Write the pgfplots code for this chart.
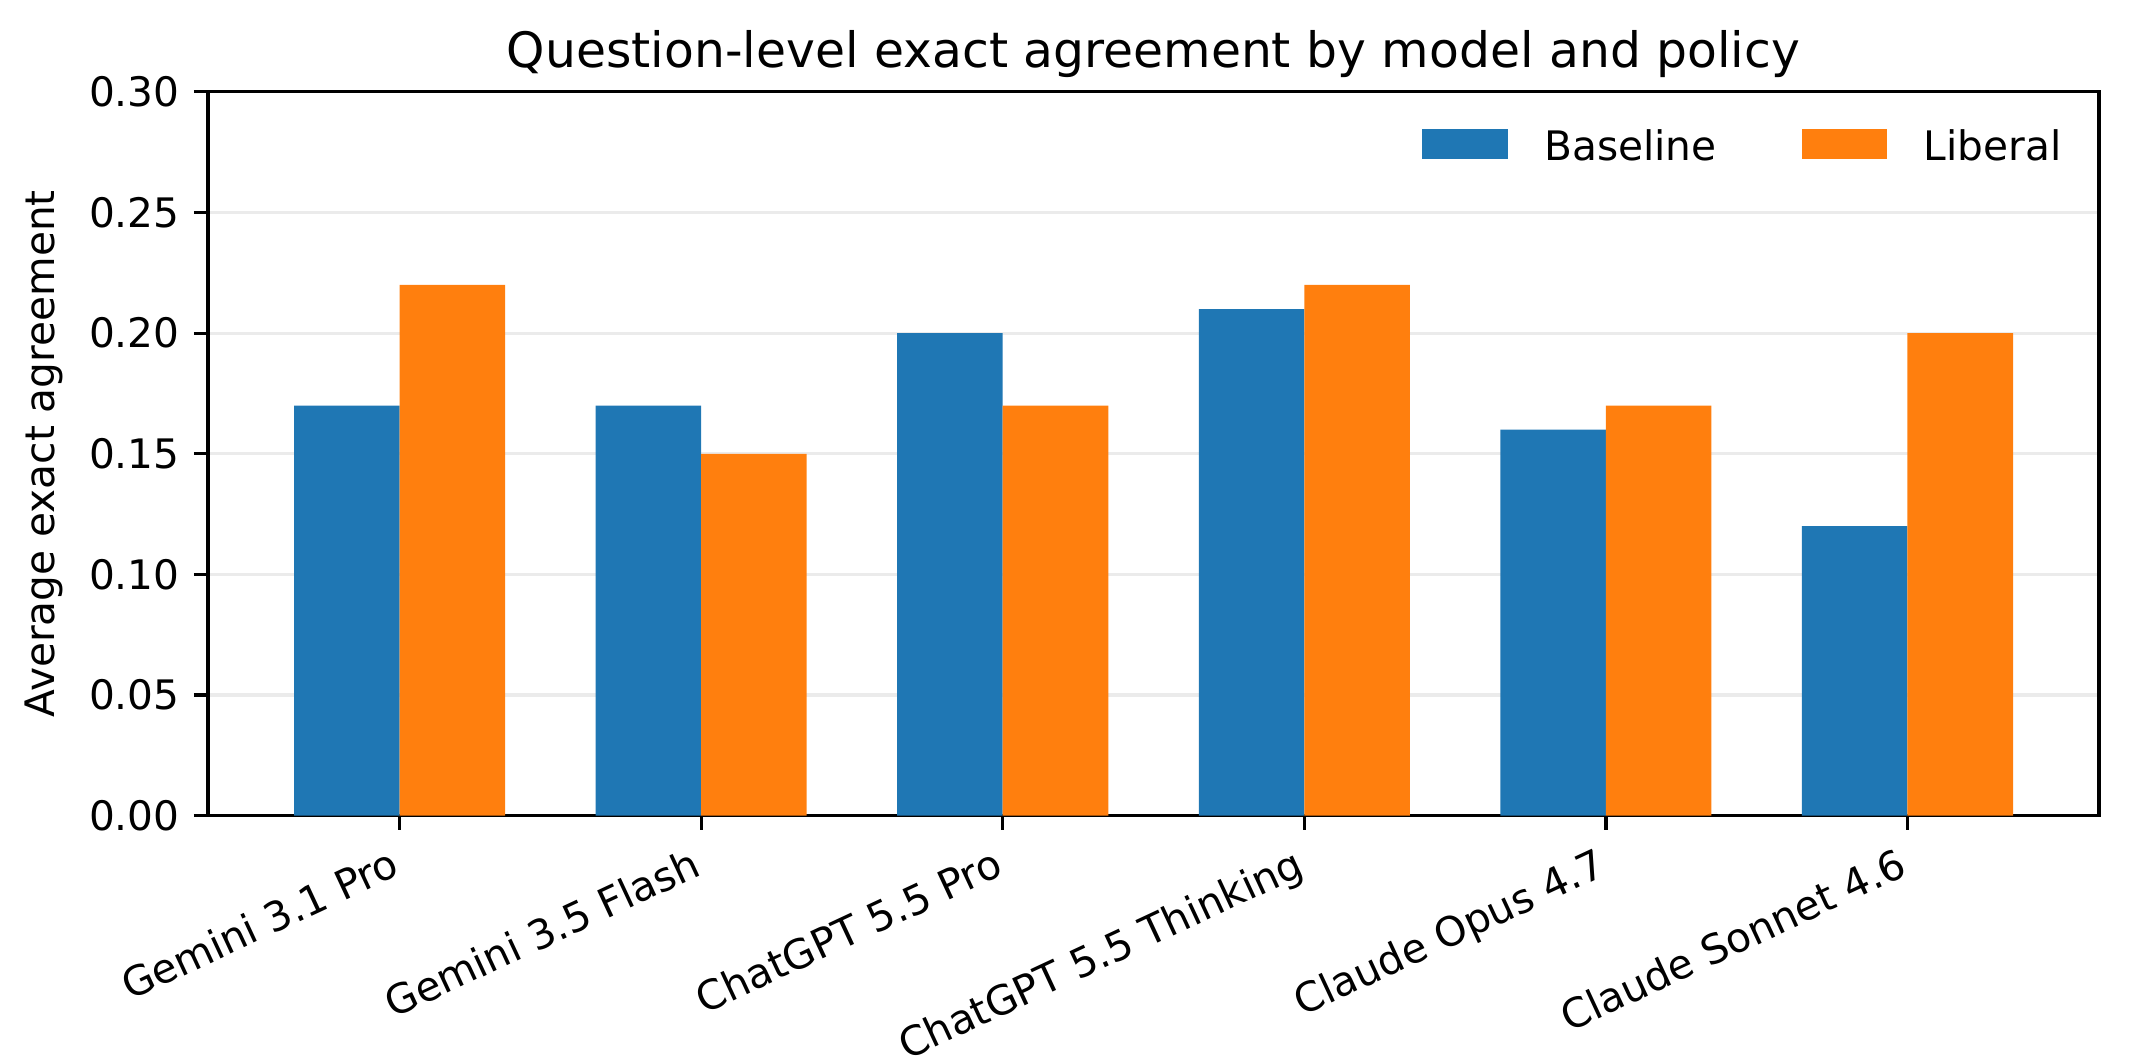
\documentclass[border=0pt]{standalone}
\usepackage{fontspec}
\setmainfont{DejaVu Sans}
\usepackage{pgfplots}
\pgfplotsset{compat=1.18}
\definecolor{mblue}{HTML}{1F77B4}
\definecolor{morange}{HTML}{FF7F0E}
\definecolor{gridc}{HTML}{EBEBEB}
\begin{document}
\begin{tikzpicture}
\begin{axis}[
  name=ax,
  scale only axis,
  width=465.2pt, height=178.1pt,
  xmin=-0.635, xmax=5.635,
  ymin=0, ymax=0.30,
  xtick={0,1,2,3,4,5},
  xticklabels={Gemini 3.1 Pro, Gemini 3.5 Flash, ChatGPT 5.5 Pro, ChatGPT 5.5 Thinking, Claude Opus 4.7, Claude Sonnet 4.6},
  ytick={0,0.05,0.10,0.15,0.20,0.25,0.30},
  xtick pos=bottom, ytick pos=left,
  tick align=outside,
  major tick length=3.5pt,
  every tick/.style={black, line width=0.8pt},
  axis line style={black, line width=0.8pt},
  ymajorgrids,
  major grid style={gridc, line width=0.8pt},
  /pgf/number format/assume math mode=true,
  yticklabel style={/pgf/number format/.cd, fixed, fixed zerofill, precision=2},
  tick label style={font=\fontsize{10}{12}\selectfont},
  xticklabel style={rotate=25, anchor=north east, inner sep=0pt, yshift=-2.3pt, xshift=-4pt},
  ylabel={Average exact agreement},
  ylabel style={font=\fontsize{10}{12}\selectfont, at={(axis description cs:-0.0761,0.5)}, anchor=south, inner sep=0pt},
  title={Question-level exact agreement by model and policy},
  title style={font=\fontsize{12}{14.4}\selectfont, at={(axis description cs:0.5,1)}, anchor=base, yshift=0pt, inner sep=0pt},
  legend style={draw=none, fill=none, at={(axis description cs:1,1)}, anchor=north east, xshift=-5pt, yshift=-5pt, inner sep=4pt, font=\fontsize{10}{12}\selectfont, legend columns=2,
    /tikz/every odd column/.append style={column sep=9pt},
    /tikz/every even column/.append style={column sep=21pt},
    nodes={inner sep=0pt}},
  legend cell align=left,
  legend image code/.code={\fill[#1] (0pt,-2.7pt) rectangle (21pt,4.6pt);},
]
\addplot[ybar, bar width=0.35, bar shift=-0.175, fill=mblue, draw=none] coordinates {
(0,0.17) (1,0.17) (2,0.20) (3,0.21) (4,0.16) (5,0.12)};
\addlegendentry{Baseline}
\addplot[ybar, bar width=0.35, bar shift=0.175, fill=morange, draw=none] coordinates {
(0,0.22) (1,0.15) (2,0.17) (3,0.22) (4,0.17) (5,0.20)};
\addlegendentry{Liberal}
\end{axis}
\pgfresetboundingbox
\path[use as bounding box] ([xshift=-51.2pt,yshift=-60pt]ax.south west) rectangle ([xshift=7.4pt,yshift=22.6pt]ax.north east);
\end{tikzpicture}
\end{document}
